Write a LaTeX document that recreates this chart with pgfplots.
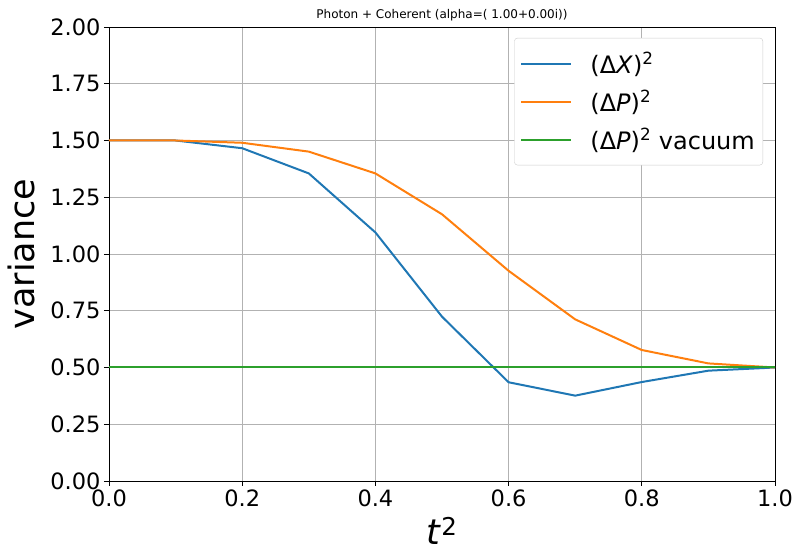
\documentclass[border=0pt]{standalone}
\usepackage{pgfplots}
\pgfplotsset{compat=1.18}
\usepackage{fontspec}
\setmainfont{DejaVu Sans}
\definecolor{mplblue}{HTML}{1F77B4}
\definecolor{mplorange}{HTML}{FF7F0E}
\definecolor{mplgreen}{HTML}{2CA02C}
\begin{document}
\begin{tikzpicture}
\begin{axis}[
  scale only axis,
  width=666pt, height=454pt,
  xmin=0, xmax=1, ymin=0, ymax=2,
  xtick={0,0.2,0.4,0.6,0.8,1.0},
  ytick={0,0.25,0.5,0.75,1.0,1.25,1.5,1.75,2.0},
  /pgf/number format/assume math mode=true,
  xticklabel style={/pgf/number format/.cd, fixed, fixed zerofill, precision=1},
  yticklabel style={/pgf/number format/.cd, fixed, fixed zerofill, precision=2},
  ticklabel style={font=\fontsize{22.5}{26}\selectfont},
  tick pos=left,
  tick align=outside,
  major tick length=5pt,
  every tick/.style={black, line width=0.9pt},
  axis line style={black, line width=0.9pt},
  grid=major,
  grid style={color=black!30, line width=0.9pt},
  title={Photon + Coherent (alpha=( 1.00+0.00i))},
  title style={font=\fontsize{12}{14}\selectfont, yshift=-4pt},
  xlabel={\textit{t}\textsuperscript{2}},
  ylabel={variance},
  xlabel style={font=\fontsize{35}{40}\selectfont, at={(axis description cs:0.5,-0.139)}, anchor=base, inner sep=0pt},
  ylabel style={font=\fontsize{35}{40}\selectfont, at={(axis description cs:-0.132,0.5)}, anchor=center, inner sep=0pt},
  legend style={at={(0.982,0.976)}, anchor=north east,
    draw=black!20, rounded corners=3pt, fill=white,
    font=\fontsize{24}{28}\selectfont, row sep=11pt, inner xsep=6pt, inner ysep=12pt,
    /tikz/every odd column/.append style={column sep=16pt}},
  legend cell align=left,
  legend image code/.code={\draw[#1, line width=2pt, sharp corners] (0pt,0pt) -- (50pt,0pt);},
]
\addplot[draw=mplblue, line width=2pt] coordinates {
(0,1.5) (0.1,1.5) (0.2,1.466) (0.3,1.355) (0.4,1.095) (0.5,0.724) (0.6,0.435) (0.7,0.376) (0.8,0.436) (0.9,0.486) (1.0,0.5)};
\addlegendentry{(Δ\textit{X})\textsuperscript{2}}
\addplot[draw=mplorange, line width=2pt] coordinates {
(0,1.5) (0.1,1.5) (0.2,1.49) (0.3,1.451) (0.4,1.355) (0.5,1.175) (0.6,0.926) (0.7,0.712) (0.8,0.577) (0.9,0.518) (1.0,0.5)};
\addlegendentry{(Δ\textit{P})\textsuperscript{2}}
\addplot[draw=mplgreen, line width=2pt] coordinates {(0,0.5) (1,0.5)};
\addlegendentry{(Δ\textit{P})\textsuperscript{2} vacuum}
\end{axis}
\pgfresetboundingbox
\path (-109pt,-70pt) rectangle (684pt,481pt);
\end{tikzpicture}
\end{document}
